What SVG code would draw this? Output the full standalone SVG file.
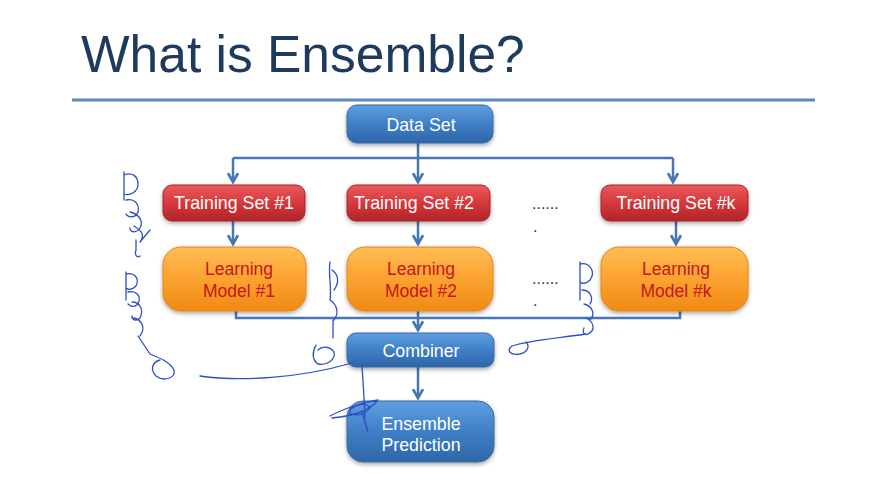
<svg xmlns="http://www.w3.org/2000/svg" width="879" height="487" viewBox="0 0 879 487">
  <defs>
    <linearGradient id="gBlue" x1="0" y1="0" x2="0" y2="1">
      <stop offset="0" stop-color="#5f9fe0"/>
      <stop offset="0.5" stop-color="#3f7fc6"/>
      <stop offset="1" stop-color="#2e66a8"/>
    </linearGradient>
    <linearGradient id="gRed" x1="0" y1="0" x2="0" y2="1">
      <stop offset="0" stop-color="#ea5a5c"/>
      <stop offset="0.5" stop-color="#d6383c"/>
      <stop offset="1" stop-color="#b02428"/>
    </linearGradient>
    <linearGradient id="gOrange" x1="0" y1="0" x2="0" y2="1">
      <stop offset="0" stop-color="#ffbe55"/>
      <stop offset="0.5" stop-color="#fba230"/>
      <stop offset="1" stop-color="#f08a14"/>
    </linearGradient>
    <filter id="shadow" x="-10%" y="-10%" width="120%" height="140%">
      <feDropShadow dx="0" dy="2" stdDeviation="2" flood-color="#000" flood-opacity="0.35"/>
    </filter>
    <marker id="arrow" viewBox="0 0 10 10" refX="8" refY="5" markerWidth="5" markerHeight="5" orient="auto">
      <path d="M1,1 L8,5 L1,9" fill="none" stroke="#4677b4" stroke-width="2.2"/>
    </marker>
  </defs>
  <style>
    .title { font-family: "Liberation Sans", Arial, sans-serif; font-size: 51.5px; fill: #1e3a5c; }
    .lbl { font-family: "Liberation Sans", Arial, sans-serif; font-size: 17.8px; fill: #ffffff; text-anchor: middle; }
    .lblm { font-family: "Liberation Sans", Arial, sans-serif; font-size: 17.5px; fill: #c4161c; text-anchor: middle; }
    .dots { font-family: "Liberation Sans", Arial, sans-serif; font-size: 16px; fill: #333; }
    .blue { fill: url(#gBlue); stroke: #3868a2; stroke-width: 1; filter: url(#shadow); }
    .red { fill: url(#gRed); stroke: #a82226; stroke-width: 1; filter: url(#shadow); }
    .orange { fill: url(#gOrange); stroke: #e0861a; stroke-width: 1; filter: url(#shadow); }
    .wire { fill: none; stroke: #4677b4; stroke-width: 2.5; }
    .ink { fill: none; stroke: #2d4fc4; stroke-width: 1.3; stroke-linecap: round; stroke-linejoin: round; }
  </style>

  <rect width="879" height="487" fill="#ffffff"/>

  <text class="title" x="81" y="72">What is Ensemble?</text>
  <line x1="72" y1="100" x2="815" y2="100" stroke="#5b89c0" stroke-width="3"/>

  <!-- connectors -->
  <g id="connectors">
    <path class="wire" d="M418,143 V158 M233,158 H673"/>
    <path class="wire" d="M233,158 V182" marker-end="url(#arrow)"/>
    <path class="wire" d="M418,158 V182" marker-end="url(#arrow)"/>
    <path class="wire" d="M673,158 V182" marker-end="url(#arrow)"/>
    <path class="wire" d="M233,221 V244" marker-end="url(#arrow)"/>
    <path class="wire" d="M418,221 V244" marker-end="url(#arrow)"/>
    <path class="wire" d="M676,221 V244" marker-end="url(#arrow)"/>
    <path class="wire" d="M236,303 V318 H680 V305"/>
    <path class="wire" d="M418,311 V330" marker-end="url(#arrow)"/>
    <path class="wire" d="M418,367 V398" marker-end="url(#arrow)"/>
  </g>

  <g id="data-set">
    <rect class="blue" x="347" y="105" width="146" height="38" rx="10"/>
    <text class="lbl" x="421" y="131">Data Set</text>
  </g>

  <g id="training-set-1">
    <rect class="red" x="163" y="185" width="142" height="36" rx="9"/>
    <text class="lbl" x="234" y="209">Training Set #1</text>
  </g>
  <g id="training-set-2">
    <rect class="red" x="347" y="185" width="143" height="36" rx="9"/>
    <text class="lbl" x="414" y="209">Training Set #2</text>
  </g>
  <g id="training-set-k">
    <rect class="red" x="601" y="185" width="147" height="36" rx="9"/>
    <text class="lbl" x="676" y="209">Training Set #k</text>
  </g>

  <g id="model-1">
    <rect class="orange" x="163" y="247" width="143" height="64" rx="18"/>
    <text class="lblm" x="239" y="275">Learning</text>
    <text class="lblm" x="239" y="297">Model #1</text>
  </g>
  <g id="model-2">
    <rect class="orange" x="347" y="247" width="146" height="64" rx="18"/>
    <text class="lblm" x="421" y="275">Learning</text>
    <text class="lblm" x="421" y="297">Model #2</text>
  </g>
  <g id="model-k">
    <rect class="orange" x="601" y="247" width="147" height="64" rx="18"/>
    <text class="lblm" x="676" y="275">Learning</text>
    <text class="lblm" x="676" y="297">Model #k</text>
  </g>

  <g id="combiner">
    <rect class="blue" x="347" y="333" width="147" height="34" rx="9"/>
    <text class="lbl" x="421" y="357">Combiner</text>
  </g>
  <g id="ensemble-prediction">
    <rect class="blue" x="347" y="401" width="147" height="61" rx="16"/>
    <text class="lbl" x="421" y="430">Ensemble</text>
    <text class="lbl" x="421" y="451">Prediction</text>
  </g>

  <!-- ellipsis between model columns -->
  <text class="dots" x="532" y="209">......</text>
  <text class="dots" x="533" y="232">.</text>
  <text class="dots" x="532" y="284">......</text>
  <text class="dots" x="533" y="306">.</text>

  <!-- hand-drawn pen strokes -->
  <g id="ink">
    <path class="ink" d="M124,172 V200 M124,175 C132,172 138,176 138,184 C138,192 130,196 124,194 M126,200 C134,198 140,204 138,212 C136,218 128,218 126,214 M130,212 C138,214 144,220 140,228 C136,234 130,232 130,228 M134,226 C140,230 146,234 140,242 L150,230 M136,240 V250 C134,256 138,258 140,256"/>
    <path class="ink" d="M126,272 V300 M126,274 C134,272 140,278 136,286 C132,290 128,290 126,288 M128,292 C136,290 142,296 138,304 C134,308 130,306 128,304 M132,302 C140,302 144,310 140,318 C136,322 132,320 132,316 M134,318 C142,320 146,328 140,336 M138,336 L150,354 C160,358 170,362 174,370 C176,378 164,382 156,376 C150,370 152,362 160,360"/>
    <path class="ink" d="M200,376 C240,382 300,378 352,363"/>
    <path class="ink" d="M330,262 C328,275 332,288 330,300 M332,270 C338,274 340,282 334,290 M330,300 C336,304 340,312 334,320 M333,320 V338"/>
    <path class="ink" d="M316,345 C312,352 312,360 318,364 C326,366 336,360 334,352 C330,346 322,346 318,350"/>
    <path class="ink" d="M362,366 C363,380 364,395 365,418"/>
    <path class="ink" d="M330,416 C345,408 365,402 378,400 C370,410 355,416 332,418 M350,410 C356,404 366,402 370,408 C366,414 358,416 350,414 Z M362,412 L368,432"/>
    <path class="ink" d="M580,262 V300 M580,264 C590,262 596,272 590,280 C586,284 582,284 580,282 M582,290 C590,290 594,298 590,304 M584,304 C592,306 596,314 590,320 M586,318 C594,322 596,330 588,334 C584,336 582,332 584,328"/>
    <path class="ink" d="M586,334 C560,338 530,340 512,346 C506,350 510,356 520,354 C528,352 530,346 526,342"/>
  </g>
</svg>
